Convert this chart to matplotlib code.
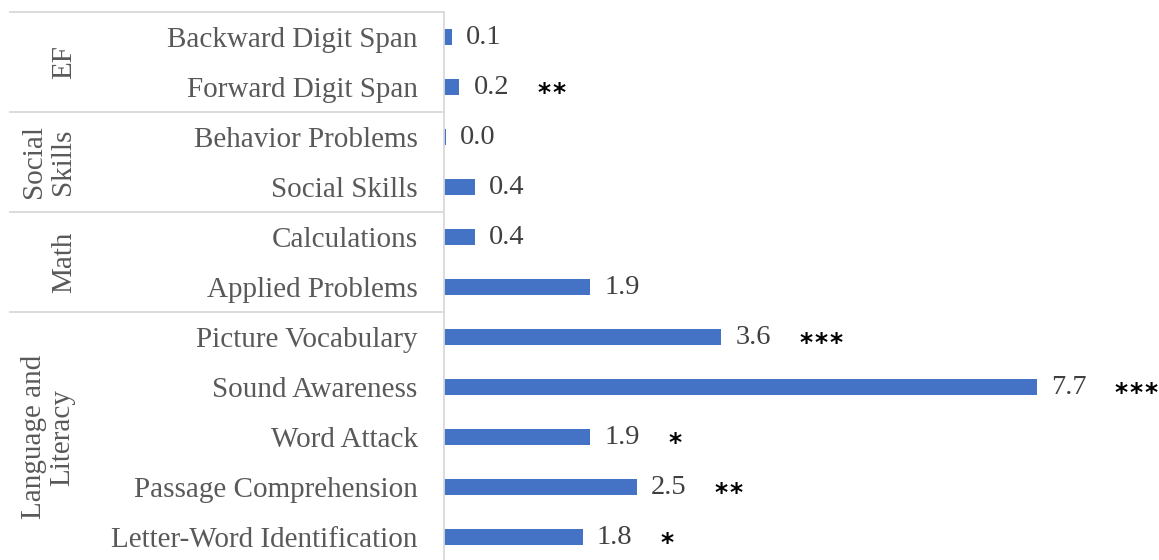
import matplotlib
matplotlib.use("Agg")
import matplotlib.pyplot as plt

# top-to-bottom order as shown in the chart
measures = [
    "Backward Digit Span", "Forward Digit Span",
    "Behavior Problems", "Social Skills",
    "Calculations", "Applied Problems",
    "Picture Vocabulary", "Sound Awareness", "Word Attack",
    "Passage Comprehension", "Letter-Word Identification",
]
values = [0.1, 0.2, 0.02, 0.4, 0.4, 1.9, 3.6, 7.7, 1.9, 2.5, 1.8]
value_labels = ["0.1", "0.2", "0.0", "0.4", "0.4", "1.9", "3.6", "7.7", "1.9", "2.5", "1.8"]
stars = ["", "**", "", "", "", "", "***", "***", "*", "**", "*"]

groups = ["EF", "Social\nSkills", "Math", "Language and\nLiteracy"]
group_sizes = [2, 2, 2, 5]

BAR = "#4472C4"
GRID = "#d9d9d9"
SERIF = "Liberation Serif"

fig = plt.figure(figsize=(11.59, 5.60), dpi=100)
W, H = 1159, 560
ax_left, ax_right = 444, 1152
ax_top, ax_bottom = 12, 562
ax = fig.add_axes([ax_left / W, (H - ax_bottom) / H,
                   (ax_right - ax_left) / W, (ax_bottom - ax_top) / H])

y = list(range(len(measures)))
bars = ax.barh(y, values, height=0.32, color=BAR)

ax.set_ylim(len(measures) - 0.5, -0.5)
ax.set_xlim(0, (ax_right - ax_left) / 77.0)

for s in ["top", "right", "bottom"]:
    ax.spines[s].set_visible(False)
ax.spines["left"].set_color(GRID)
ax.spines["left"].set_linewidth(1.3)
ax.set_xticks([])
ax.set_yticks(y)
ax.set_yticklabels(measures, fontfamily=SERIF, fontsize=21, color="#595959")
ax.tick_params(axis="y", length=0, pad=19)

# value labels and significance stars
for yi, v, lab, st in zip(y, values, value_labels, stars):
    ax.annotate(lab, (v, yi), xytext=(14, 0), textcoords="offset pixels",
                ha="left", va="center", fontfamily=SERIF, fontsize=20.5,
                color="#404040")
    # stars are spaced out a little, like the original
    for k in range(len(st)):
        ax.annotate("*", (v, yi), xytext=(78 + 15 * k, -13),
                    textcoords="offset pixels", ha="left", va="baseline",
                    fontfamily="DejaVu Sans", fontweight="bold", fontsize=18,
                    color="black")

# grouped category axis: separators and rotated group names
trans = ax.get_yaxis_transform()
x0 = (10 - ax_left) / (ax_right - ax_left)
start = -0.5
bounds = [start]
for n in group_sizes:
    start += n
    bounds.append(start)
for b in bounds[:-1]:
    ax.plot([x0, 0], [b, b], color=GRID, lw=1.3, transform=trans, clip_on=False)

for g, lo, hi in zip(groups, bounds[:-1], bounds[1:]):
    xg = 64 if "\n" not in g else 48
    ax.text((xg - ax_left) / (ax_right - ax_left), (lo + hi) / 2, g,
            transform=trans, rotation=90, ha="center", va="center",
            multialignment="center", fontfamily=SERIF, fontsize=21,
            color="#595959", linespacing=1.15)

fig.savefig("out.png", dpi=100)
